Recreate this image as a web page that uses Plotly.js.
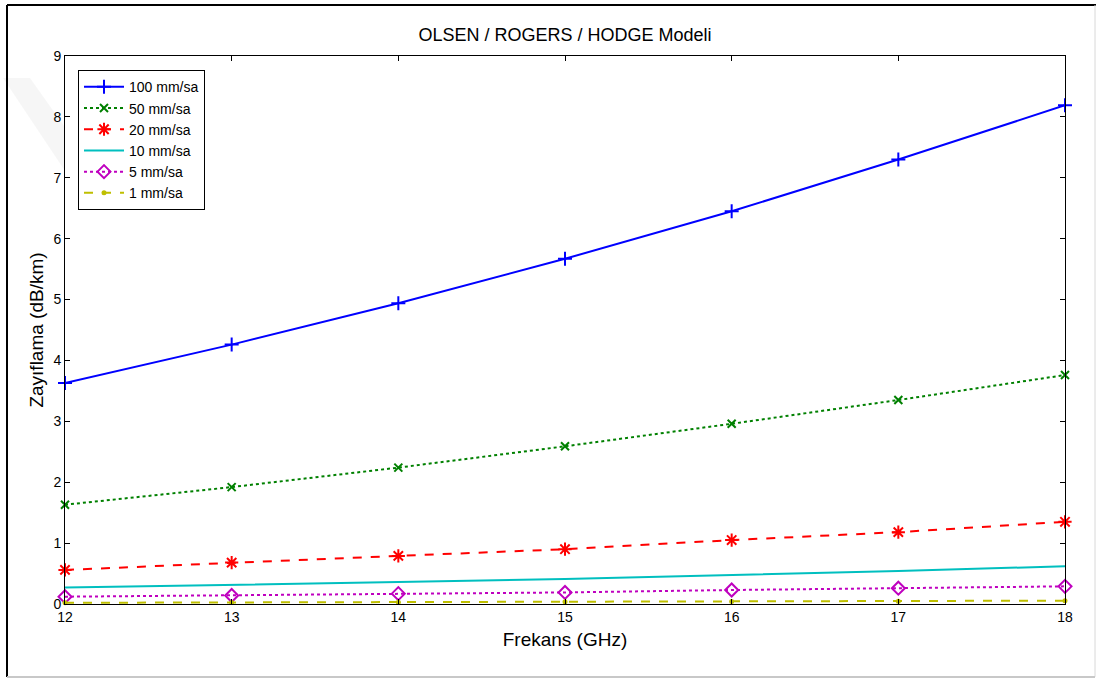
<!DOCTYPE html>
<html>
<head>
<meta charset="utf-8">
<script src="https://cdn.plot.ly/plotly-3.0.1.min.js"></script>
<style>
  html, body { margin: 0; padding: 0; background: #ffffff; }
  #chart { width: 1097px; height: 679px; }
</style>
</head>
<body>
<div id="chart"></div>
<script>
// Frequency axis (GHz)
const frekans = [12, 13, 14, 15, 16, 17, 18];

// Rain attenuation (dB/km) per rain rate
const r100 = [3.63, 4.26, 4.94, 5.67, 6.45, 7.30, 8.19];
const r50  = [1.63, 1.92, 2.24, 2.59, 2.96, 3.35, 3.76];
const r20  = [0.56, 0.68, 0.79, 0.90, 1.05, 1.18, 1.35];
const r10  = [0.27, 0.31, 0.36, 0.41, 0.47, 0.54, 0.62];
const r5   = [0.12, 0.14, 0.17, 0.19, 0.23, 0.26, 0.29];
const r1   = [0.02, 0.025, 0.03, 0.035, 0.04, 0.047, 0.055];

const seriesNames = ['100 mm/sa', '50 mm/sa', '20 mm/sa', '10 mm/sa', '5 mm/sa', '1 mm/sa'];
const xTicks = [12, 13, 14, 15, 16, 17, 18];
const yTicks = [0, 1, 2, 3, 4, 5, 6, 7, 8, 9];

function series(y, name, color, dash, marker) {
  const t = {
    x: frekans, y: y, name: name, type: 'scatter',
    mode: marker ? 'lines+markers' : 'lines',
    line: { color: color, width: 2, dash: dash },
    cliponaxis: false
  };
  if (marker) t.marker = marker;
  return t;
}

const traces = [
  series(r100, seriesNames[0], '#0000ff', 'solid',
         { symbol: 'cross-thin-open', size: 10, color: '#0000ff', line: { color: '#0000ff', width: 2 } }),
  series(r50, seriesNames[1], '#008000', 'dot',
         { symbol: 'x-thin-open', size: 8, color: '#008000', line: { color: '#008000', width: 2 } }),
  series(r20, seriesNames[2], '#ff0000', 'dash',
         { symbol: 'asterisk-open', size: 11, color: '#ff0000', line: { color: '#ff0000', width: 2 } }),
  series(r10, seriesNames[3], '#00bfbf', 'solid', null),
  series(r5, seriesNames[4], '#bf00bf', 'dot',
         { symbol: 'diamond-open', size: 10, color: '#bf00bf', line: { color: '#bf00bf', width: 2 } }),
  series(r1, seriesNames[5], '#bfbf00', 'dash',
         { symbol: 'circle', size: 5, color: '#bfbf00', line: { color: '#bfbf00', width: 0 } })
];

const axisCommon = {
  showline: true, mirror: 'ticks', linecolor: '#000000', linewidth: 1,
  ticks: 'inside', ticklen: 5, tickcolor: '#000000', tickwidth: 1,
  showgrid: false, zeroline: false,
  tickfont: { family: 'Liberation Sans, Arial, sans-serif', size: 14, color: '#000000' }
};

const layout = {
  width: 1097, height: 679,
  margin: { l: 65, r: 32, t: 56, b: 75 },
  paper_bgcolor: '#ffffff', plot_bgcolor: '#ffffff',
  font: { family: 'Liberation Sans, Arial, sans-serif', color: '#000000' },
  title: {
    text: 'OLSEN / ROGERS / HODGE Modeli',
    font: { size: 18, color: '#000000' },
    x: 0.5, xref: 'paper', xanchor: 'center',
    y: 1 - 35 / 679, yanchor: 'middle'
  },
  xaxis: Object.assign({}, axisCommon, {
    range: [12, 18], tickvals: xTicks, ticktext: xTicks.map(String),
    title: { text: 'Frekans (GHz)', font: { size: 19 }, standoff: 8 }
  }),
  yaxis: Object.assign({}, axisCommon, {
    range: [0, 9], tickvals: yTicks, ticktext: yTicks.map(String),
    title: { text: 'Zayıflama (dB/km)', font: { size: 19 }, standoff: 4 }
  }),
  showlegend: true,
  legend: {
    x: 0.013, y: 0.974, xanchor: 'left', yanchor: 'top',
    bgcolor: '#ffffff', bordercolor: '#000000', borderwidth: 1,
    font: { size: 14, color: '#000000' },
    itemwidth: 40,
    tracegroupgap: 0
  },
  shapes: [
    // faint diagonal band in the left margin
    { type: 'path', xref: 'paper', yref: 'paper', layer: 'below',
      path: 'M -0.062 0.96 L -0.035 0.96 L 0.0 0.87 L 0.0 0.79 Z',
      fillcolor: 'rgba(0,0,0,0.035)', line: { width: 0 } },
    // figure frame
    { type: 'line', xref: 'paper', yref: 'paper', x0: -0.058, x1: 1.031, y0: 1.093, y1: 1.093,
      line: { color: '#000000', width: 2 } },
    { type: 'line', xref: 'paper', yref: 'paper', x0: -0.058, x1: -0.058, y0: 1.093, y1: -0.133,
      line: { color: '#000000', width: 2 } },
    { type: 'line', xref: 'paper', yref: 'paper', x0: 1.030, x1: 1.030, y0: 1.093, y1: -0.133,
      line: { color: '#d8d8d8', width: 1 } },
    { type: 'line', xref: 'paper', yref: 'paper', x0: -0.058, x1: 1.030, y0: -0.133, y1: -0.133,
      line: { color: '#c8c8c8', width: 2 } }
  ]
};

Plotly.newPlot('chart', traces, layout, { displayModeBar: false, staticPlot: true });
</script>
</body>
</html>
